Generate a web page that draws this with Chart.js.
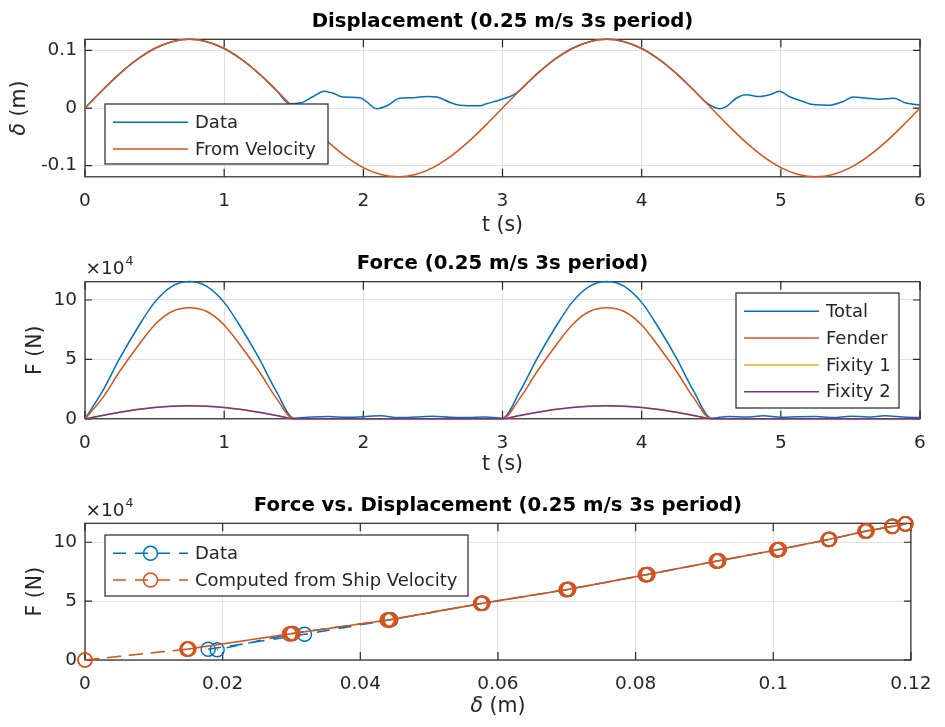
<!DOCTYPE html>
<html lang="en">
<head>
<meta charset="utf-8">
<title>Fender test - 0.25 m/s, 3 s period</title>
<script src="https://cdn.jsdelivr.net/npm/chart.js@4.4.1/dist/chart.umd.min.js"></script>
<style>
  body { margin: 0; background: #fff; }
  .panel { position: absolute; left: 0; width: 945px; }
</style>
</head>
<body>
<div class="panel" style="top:0; height:240px"><canvas id="dispChart"></canvas></div>
<div class="panel" style="top:240px; height:240px"><canvas id="forceChart"></canvas></div>
<div class="panel" style="top:480px; height:247px"><canvas id="fdChart"></canvas></div>
<script>
// time base of the ship-velocity model (s)
const simTime = [0, 0.125, 0.25, 0.375, 0.5, 0.625, 0.75, 0.875, 1, 1.125, 1.25, 1.375, 1.5,
  1.625, 1.75, 1.875, 2, 2.125, 2.25, 2.375, 2.5, 2.625, 2.75, 2.875, 3,
  3.125, 3.25, 3.375, 3.5, 3.625, 3.75, 3.875, 4, 4.125, 4.25, 4.375, 4.5,
  4.625, 4.75, 4.875, 5, 5.125, 5.25, 5.375, 5.5, 5.625, 5.75, 5.875, 6];

// displacement integrated from ship velocity (m)
const velDisp = [0, 0.0309, 0.0597, 0.0844, 0.1034, 0.1153, 0.1194, 0.1153, 0.1034, 0.0844, 0.0597, 0.0309, 0,
  -0.0309, -0.0597, -0.0844, -0.1034, -0.1153, -0.1194, -0.1153, -0.1034, -0.0844, -0.0597, -0.0309, 0,
  0.0309, 0.0597, 0.0844, 0.1034, 0.1153, 0.1194, 0.1153, 0.1034, 0.0844, 0.0597, 0.0309, 0,
  -0.0309, -0.0597, -0.0844, -0.1034, -0.1153, -0.1194, -0.1153, -0.1034, -0.0844, -0.0597, -0.0309, 0];

// measured fender displacement
const dataTime = [0, 0.125, 0.25, 0.375, 0.5, 0.625, 0.75, 0.875, 1, 1.125, 1.25, 1.375,
  1.47, 1.545, 1.64, 1.72, 1.78, 1.855, 1.975, 2.02, 2.095, 2.17, 2.26, 2.36, 2.455, 2.53,
  2.62, 2.69, 2.84, 2.885, 2.98, 3.08,
  3.125, 3.25, 3.375, 3.5, 3.625, 3.75, 3.875, 4, 4.125, 4.25, 4.375,
  4.47, 4.56, 4.61, 4.68, 4.75, 4.85, 4.92, 4.99, 5.06, 5.16, 5.23, 5.35, 5.45, 5.52,
  5.62, 5.71, 5.81, 5.9, 6];
const dataDisp = [0, 0.0309, 0.0597, 0.0844, 0.1034, 0.1153, 0.1194, 0.1153, 0.1034, 0.0844, 0.0597, 0.0309,
  0.0075, 0.0086, 0.020, 0.029, 0.026, 0.019, 0.018, 0.0115, -0.001, 0.004, 0.017, 0.018, 0.020, 0.019,
  0.010, 0.005, 0.004, 0.0075, 0.014, 0.023,
  0.0309, 0.0597, 0.0844, 0.1034, 0.1153, 0.1194, 0.1153, 0.1034, 0.0844, 0.0597, 0.0309,
  0.0086, -0.001, 0.003, 0.017, 0.023, 0.020, 0.023, 0.029, 0.020, 0.0115, 0.006, 0.005, 0.0115, 0.019,
  0.017, 0.0155, 0.017, 0.0086, 0.005];

// forces on simTime (N)
const totalForce = [0, 23000, 51000, 76000, 98000, 111500, 115500, 111500, 98000, 76000, 51000, 23000, 500,
  1500, 2000, 1200, 1800, 2500, 1000, 1500, 2200, 1200, 1000, 1500, 500,
  23000, 51000, 76000, 98000, 111500, 115500, 111500, 98000, 76000, 51000, 23000, 500,
  2000, 1500, 2500, 1200, 1800, 2000, 1000, 2200, 1500, 2500, 1500, 1000];
const fenderForce = [0, 17400, 40000, 60400, 79000, 90300, 93500, 90300, 79000, 60400, 40000, 17400, 0,
  0, 0, 0, 0, 0, 0, 0, 0, 0, 0, 0, 0,
  17400, 40000, 60400, 79000, 90300, 93500, 90300, 79000, 60400, 40000, 17400, 0,
  0, 0, 0, 0, 0, 0, 0, 0, 0, 0, 0, 0];
const fixity1Force = [0, 2800, 5500, 7800, 9500, 10600, 11000, 10600, 9500, 7800, 5500, 2800, 0,
  0, 0, 0, 0, 0, 0, 0, 0, 0, 0, 0, 0,
  2800, 5500, 7800, 9500, 10600, 11000, 10600, 9500, 7800, 5500, 2800, 0,
  0, 0, 0, 0, 0, 0, 0, 0, 0, 0, 0, 0];
const fixity2Force = [0, 2800, 5500, 7800, 9500, 10600, 11000, 10600, 9500, 7800, 5500, 2800, 0,
  0, 0, 0, 0, 0, 0, 0, 0, 0, 0, 0, 0,
  2800, 5500, 7800, 9500, 10600, 11000, 10600, 9500, 7800, 5500, 2800, 0,
  0, 0, 0, 0, 0, 0, 0, 0, 0, 0, 0, 0];

// force vs displacement over both contact periods (null = out of contact, not drawn)
const computedDisp = [0, 0.0149, 0.0297, 0.0439, 0.0575, 0.0702, 0.0817, 0.092, 0.1008, 0.108, 0.1136, 0.1173, 0.1192,
  0.1192, 0.1173, 0.1134, 0.1082, 0.1006, 0.0918, 0.0815, 0.0700, 0.0578, 0.0444, 0.0302, 0.0149, 0,
  null,
  0.0151, 0.0299, 0.0441, 0.0576, 0.0703, 0.0818, 0.0921, 0.1009, 0.1081, 0.1136, 0.1174, 0.1193,
  0.1191, 0.1172, 0.1133, 0.1081, 0.1005, 0.0917, 0.0814, 0.0699, 0.0577, 0.0443, 0.0300, 0.0148];
const computedForce = [0, 9300, 22000, 33900, 48000, 59900, 72600, 84200, 93800, 102300, 109600, 113600, 115800,
  115500, 113400, 109400, 102500, 93600, 84000, 72400, 59800, 48200, 34200, 22600, 9300, 0,
  null,
  9400, 22300, 34000, 48100, 60000, 72700, 84300, 93900, 102400, 109700, 113700, 115700,
  115400, 113300, 109300, 102400, 93500, 83900, 72300, 59700, 48100, 34100, 22400, 9200];
const measuredDisp = [0.0179, 0.0319, 0.0441, 0.0575, 0.0702, 0.0817, 0.092, 0.1008, 0.108, 0.1136, 0.1173, 0.1192,
  0.1192, 0.1173, 0.1134, 0.1082, 0.1006, 0.0918, 0.0815, 0.0700, 0.0578, 0.0444, 0.0302, 0.0192];
const measuredForce = [9100, 21800, 33900, 48000, 59900, 72600, 84200, 93800, 102300, 109600, 113600, 115800,
  115500, 113400, 109400, 102500, 93600, 84000, 72400, 59800, 48200, 34200, 22600, 8600];

// tick values
const timeTicks = [0, 1, 2, 3, 4, 5, 6];
const dispTicks = [-0.1, 0, 0.1];
const forceTicks = [0, 50000, 100000];
const deltaTicks = [0, 0.02, 0.04, 0.06, 0.08, 0.1, 0.12];

const BLUE = '#0072BD', ORANGE = '#D95319', YELLOW = '#EDB120', PURPLE = '#7E2F8E';
const INK = '#262626', GRID = '#dfdfdf';
const FONT = 'DejaVu Sans';

const pairs = (xs, ys) => xs.map((x, i) => ({ x: x, y: ys[i] }));

// label made of plain/italic pieces, centred on (x, y)
function drawLabel(ctx, parts, x, y, rotate) {
  ctx.save();
  ctx.translate(x, y);
  if (rotate) ctx.rotate(-Math.PI / 2);
  ctx.textBaseline = 'middle';
  ctx.textAlign = 'left';
  ctx.fillStyle = INK;
  const fonts = parts.map(p => (p.italic ? 'italic ' : '') + '20.5px "' + FONT + '"');
  const widths = parts.map((p, i) => { ctx.font = fonts[i]; return ctx.measureText(p.text).width; });
  let cx = -widths.reduce((s, w) => s + w, 0) / 2;
  parts.forEach((p, i) => {
    ctx.font = fonts[i];
    ctx.fillText(p.text, cx, 0);
    cx += widths[i];
  });
  ctx.restore();
}

function drawLegend(chart, lg) {
  const ctx = chart.ctx;
  ctx.save();
  ctx.fillStyle = '#fff';
  ctx.fillRect(lg.left, lg.top, lg.width, lg.height);
  ctx.strokeStyle = INK;
  ctx.lineWidth = 1.2;
  ctx.strokeRect(lg.left, lg.top, lg.width, lg.height);
  chart.data.datasets.forEach((ds, i) => {
    const y = lg.top + 19.3 + i * 26.8;
    const x0 = lg.left + 8, x1 = lg.left + 83;
    ctx.strokeStyle = ds.borderColor;
    ctx.lineWidth = ds.borderWidth;
    ctx.setLineDash(ds.borderDash || []);
    ctx.beginPath();
    ctx.moveTo(x0, y - 1);
    ctx.lineTo(x1, y - 1);
    ctx.stroke();
    ctx.setLineDash([]);
    if (ds.pointRadius) {
      ctx.lineWidth = ds.pointBorderWidth;
      ctx.beginPath();
      ctx.arc((x0 + x1) / 2, y - 1, ds.pointRadius, 0, Math.PI * 2);
      ctx.stroke();
    }
    ctx.fillStyle = INK;
    ctx.font = '18px "' + FONT + '"';
    ctx.textBaseline = 'middle';
    ctx.textAlign = 'left';
    ctx.fillText(ds.label, lg.left + 90, y);
  });
  ctx.restore();
}

// boxed axes with inward ticks, axis labels, exponent and legend
const matlabAxes = {
  id: 'matlabAxes',
  beforeDatasetsDraw(chart, args, opts) {
    const ctx = chart.ctx, a = chart.chartArea, sx = chart.scales.x, sy = chart.scales.y;
    ctx.save();
    ctx.strokeStyle = INK;
    ctx.lineWidth = 1.2;
    ctx.strokeRect(a.left, a.top, a.width, a.height);
    ctx.beginPath();
    sx.ticks.forEach(t => {
      const px = sx.getPixelForValue(t.value);
      ctx.moveTo(px, a.bottom); ctx.lineTo(px, a.bottom - 8);
      ctx.moveTo(px, a.top); ctx.lineTo(px, a.top + 8);
    });
    sy.ticks.forEach(t => {
      const py = sy.getPixelForValue(t.value);
      ctx.moveTo(a.left, py); ctx.lineTo(a.left + 7, py);
      ctx.moveTo(a.right, py); ctx.lineTo(a.right - 7, py);
    });
    ctx.stroke();

    drawLabel(ctx, opts.xLabel, (a.left + a.right) / 2, a.bottom + opts.xLabelOffset, false);
    drawLabel(ctx, opts.yLabel, opts.yLabelX, (a.top + a.bottom) / 2, true);

    if (opts.exponent) {
      ctx.fillStyle = INK;
      ctx.textAlign = 'left';
      ctx.textBaseline = 'alphabetic';
      ctx.font = '18.5px "' + FONT + '"';
      ctx.fillText('\u00d710', a.left + 0.5, a.top - 7.8);
      const w = ctx.measureText('\u00d710').width;
      ctx.font = '12.5px "' + FONT + '"';
      ctx.fillText(opts.exponent, a.left + 1.5 + w, a.top - 16.6);
    }
    ctx.restore();
  },
  afterDatasetsDraw(chart, args, opts) {
    if (opts.legend) drawLegend(chart, opts.legend);
  }
};

function axis(min, max, ticks, fmt, pad) {
  return {
    type: 'linear', min: min, max: max,
    afterBuildTicks: scale => { scale.ticks = ticks.map(v => ({ value: v })); },
    grid: { color: GRID, lineWidth: 1, drawTicks: false },
    border: { display: false },
    ticks: {
      color: INK, padding: pad, autoSkip: false, maxRotation: 0,
      font: { family: FONT, size: 18.5 }, callback: fmt
    }
  };
}

function options(cfg) {
  const x = axis(cfg.xMin, cfg.xMax, cfg.xTicks, cfg.xFmt, 13.5);
  x.position = 'bottom';
  x.afterFit = s => { s.height = cfg.height - cfg.bottom; };
  const y = axis(cfg.yMin, cfg.yMax, cfg.yTicks, cfg.yFmt, 8);
  y.position = 'left';
  y.afterFit = s => { s.width = 85; };
  return {
    responsive: true,
    maintainAspectRatio: false,
    animation: false,
    layout: { padding: { top: 0, right: 25, bottom: 0, left: 0 } },
    elements: {
      line: { borderWidth: 1.5, fill: false },
      point: { radius: 0 }
    },
    scales: { x: x, y: y },
    plugins: {
      legend: { display: false },
      tooltip: { enabled: false },
      title: {
        display: true, text: cfg.title, fullSize: false, color: '#000',
        font: { family: FONT, size: 19.7, weight: 'bold', lineHeight: 1.2 },
        padding: { top: cfg.top - 5.7 - 23.64, bottom: 5.7 }
      },
      matlabAxes: cfg.axes
    }
  };
}

const fmtPlain = v => String(v);
const fmtForce = v => String(v / 1e4);
const fmtDelta = v => String(+v.toFixed(2));

new Chart(document.getElementById('dispChart'), {
  type: 'line',
  data: {
    datasets: [
      { label: 'Data', data: pairs(dataTime, dataDisp), borderColor: BLUE, borderWidth: 1.5,
        cubicInterpolationMode: 'monotone', clip: false, order: 1 },
      { label: 'From Velocity', data: pairs(simTime, velDisp), borderColor: ORANGE, borderWidth: 1.5,
        cubicInterpolationMode: 'monotone', clip: false, order: 0 }
    ]
  },
  options: options({
    title: 'Displacement (0.25 m/s 3s period)',
    height: 240, top: 39.3, bottom: 176.8,
    xMin: 0, xMax: 6, xTicks: timeTicks, xFmt: fmtPlain,
    yMin: -0.1194, yMax: 0.1194, yTicks: dispTicks, yFmt: fmtPlain,
    axes: {
      xLabel: [{ text: 't (s)' }], xLabelOffset: 49,
      yLabel: [{ text: '\u03b4', italic: true }, { text: ' (m)' }], yLabelX: 20,
      legend: { left: 105, top: 104, width: 223, height: 60 }
    }
  }),
  plugins: [matlabAxes]
});

new Chart(document.getElementById('forceChart'), {
  type: 'line',
  data: {
    datasets: [
      { label: 'Total', data: pairs(simTime, totalForce), borderColor: BLUE, borderWidth: 1.5,
        cubicInterpolationMode: 'monotone', clip: false, order: 3 },
      { label: 'Fender', data: pairs(simTime, fenderForce), borderColor: ORANGE, borderWidth: 1.5,
        cubicInterpolationMode: 'monotone', clip: false, order: 2 },
      { label: 'Fixity 1', data: pairs(simTime, fixity1Force), borderColor: YELLOW, borderWidth: 1.5,
        cubicInterpolationMode: 'monotone', clip: false, order: 1 },
      { label: 'Fixity 2', data: pairs(simTime, fixity2Force), borderColor: PURPLE, borderWidth: 1.5,
        cubicInterpolationMode: 'monotone', clip: false, order: 0 }
    ]
  },
  options: options({
    title: 'Force (0.25 m/s 3s period)',
    height: 240, top: 41.7, bottom: 178.8,
    xMin: 0, xMax: 6, xTicks: timeTicks, xFmt: fmtPlain,
    yMin: 0, yMax: 115400, yTicks: forceTicks, yFmt: fmtForce,
    axes: {
      xLabel: [{ text: 't (s)' }], xLabelOffset: 45.4,
      yLabel: [{ text: 'F (N)' }], yLabelX: 35.8,
      exponent: '4',
      legend: { left: 736, top: 53, width: 163, height: 115 }
    }
  }),
  plugins: [matlabAxes]
});

new Chart(document.getElementById('fdChart'), {
  type: 'scatter',
  data: {
    datasets: [
      { label: 'Data', data: pairs(measuredDisp, measuredForce), showLine: true,
        borderColor: BLUE, borderWidth: 1.5, borderDash: [13, 9],
        pointRadius: 7, pointStyle: 'circle', pointBorderColor: BLUE, pointBorderWidth: 1.5,
        pointBackgroundColor: 'rgba(0,0,0,0)', clip: false, order: 1 },
      { label: 'Computed from Ship Velocity', data: pairs(computedDisp, computedForce), showLine: true,
        spanGaps: false,
        borderColor: ORANGE, borderWidth: 1.5, borderDash: [13, 9],
        pointRadius: 7, pointStyle: 'circle', pointBorderColor: ORANGE, pointBorderWidth: 1.5,
        pointBackgroundColor: 'rgba(0,0,0,0)', clip: false, order: 0 }
    ]
  },
  options: options({
    title: 'Force vs. Displacement (0.25 m/s 3s period)',
    height: 247, top: 43.3, bottom: 180,
    xMin: 0, xMax: 0.12, xTicks: deltaTicks, xFmt: fmtDelta,
    yMin: 0, yMax: 116100, yTicks: forceTicks, yFmt: fmtForce,
    axes: {
      xLabel: [{ text: '\u03b4', italic: true }, { text: ' (m)' }], xLabelOffset: 46.5,
      yLabel: [{ text: 'F (N)' }], yLabelX: 35.8,
      exponent: '4',
      legend: { left: 105, top: 55, width: 363, height: 61 }
    }
  }),
  plugins: [matlabAxes]
});
</script>
</body>
</html>
